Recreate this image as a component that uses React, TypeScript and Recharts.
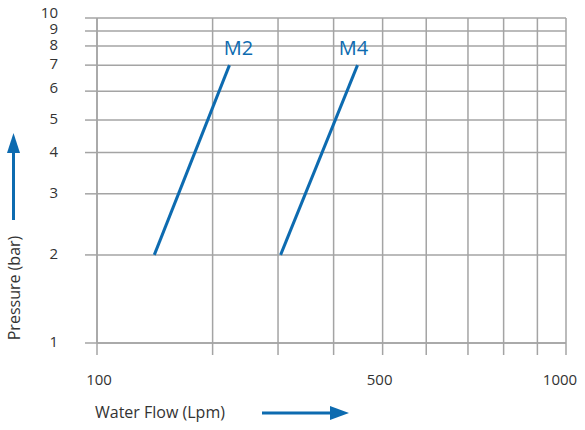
import { LineChart, Line, XAxis, YAxis, CartesianGrid } from 'recharts';

const FLOW_TICKS = [100, 200, 300, 400, 500, 600, 700, 800, 900, 1000];
const FLOW_LABELS = ['100', '', '', '', '500', '', '', '', '', '1000'];
const PRESSURE_TICKS = [1, 2, 3, 4, 5, 6, 7, 8, 9, 10];

// the printed grid is not a strict log scale, so keep its relative spacing
const FLOW_SPACING = [0, 0.2465, 0.386, 0.5045, 0.609, 0.702, 0.791, 0.867, 0.939, 1];
const PRESSURE_SPACING = [0, 0.271, 0.459, 0.586, 0.686, 0.775, 0.855, 0.914, 0.96, 1];

const M2 = [
  { flow: 141, pressure: 2 },
  { flow: 222, pressure: 7 },
];
const M4 = [
  { flow: 304, pressure: 2 },
  { flow: 446, pressure: 7 },
];

const BLUE = '#0d6bb0';
const GRID = '#a4a4a4';
const TEXT = '#333333';
const FONT = '"Open Sans", "Noto Sans", sans-serif';

// d3-like scale: log interpolation between the printed grid lines
function gridScale(knots: number[], spacing: number[]) {
  let domain = [knots[0], knots[knots.length - 1]];
  let range = [0, 1];
  const frac = (v: number) => {
    let i = 0;
    while (i < knots.length - 2 && v > knots[i + 1]) i++;
    const t = Math.log(v / knots[i]) / Math.log(knots[i + 1] / knots[i]);
    return spacing[i] + t * (spacing[i + 1] - spacing[i]);
  };
  const scale: any = (v: any) => {
    const n = Number(v);
    if (!(n > 0)) return undefined;
    const f0 = frac(Number(domain[0]));
    const f1 = frac(Number(domain[1]));
    const f = (frac(n) - f0) / (f1 - f0);
    return range[0] + f * (range[1] - range[0]);
  };
  scale.domain = (d?: any[]) => {
    if (d === undefined) return domain.slice();
    domain = d.map(Number);
    return scale;
  };
  scale.range = (r?: any[]) => {
    if (r === undefined) return range.slice();
    range = r.map(Number);
    return scale;
  };
  scale.copy = () => gridScale(knots, spacing).domain(domain).range(range);
  scale.ticks = () => knots.slice();
  scale.tickFormat = () => (v: any) => String(v);
  scale.invert = (px: number) => {
    const f0 = frac(Number(domain[0]));
    const f1 = frac(Number(domain[1]));
    const f = f0 + ((px - range[0]) / (range[1] - range[0])) * (f1 - f0);
    let i = 0;
    while (i < spacing.length - 2 && f > spacing[i + 1]) i++;
    const t = (f - spacing[i]) / (spacing[i + 1] - spacing[i]);
    return knots[i] * Math.pow(knots[i + 1] / knots[i], t);
  };
  return scale;
}

const flowScale = gridScale(FLOW_TICKS, FLOW_SPACING);
const pressureScale = gridScale(PRESSURE_TICKS, PRESSURE_SPACING);

const seriesTag = (name: string, last: number, dx: number) => (props: any) => {
  if (props.index !== last) return <g />;
  return (
    <text
      x={props.x + dx}
      y={props.y - 10}
      textAnchor="middle"
      fill={BLUE}
      fontSize={20}
      fontFamily={FONT}
    >
      {name}
    </text>
  );
};

const FlowTick = (props: any) => {
  const { x, y, payload, index } = props;
  const label = FLOW_LABELS[index] ?? '';
  if (!label) return <g />;
  const shift = index === FLOW_TICKS.length - 1 ? -6 : index === 0 ? 2 : -3;
  return (
    <text x={x + shift} y={y} dy="0.71em" textAnchor="middle" fill={TEXT} fontSize={15} fontFamily={FONT}>
      {label}
    </text>
  );
};

// the top labels are crowded, the printed chart lifts them a little
const PressureTick = (props: any) => {
  const { x, y, payload } = props;
  const v = payload.value;
  const lift = v === 10 ? 5.5 : v === 9 ? 2 : v === 6 ? 3.5 : v === 7 ? 1.5 : 1;
  return (
    <text x={x} y={y - lift} dy="0.355em" textAnchor="end" fill={TEXT} fontSize={15} fontFamily={FONT}>
      {v}
    </text>
  );
};

const FlowTitle = (props: any) => {
  const vb = props.viewBox;
  const ay = vb.y + 70;
  const x0 = vb.x + 165;
  const x1 = vb.x + 252;
  return (
    <g>
      <text x={vb.x - 2} y={vb.y + 75} fill={TEXT} fontSize={16} fontFamily={FONT}>
        Water Flow (Lpm)
      </text>
      <line x1={x0} y1={ay} x2={x1 - 15} y2={ay} stroke={BLUE} strokeWidth={3} />
      <polygon points={`${x1},${ay} ${x1 - 19},${ay - 7} ${x1 - 19},${ay + 7}`} fill={BLUE} />
    </g>
  );
};

const PressureTitle = (props: any) => {
  const vb = props.viewBox;
  const ax = vb.x + 13.5;
  const tx = vb.x + 19.5;
  const ty = vb.y + 270;
  const y0 = vb.y + 202;
  const y1 = vb.y + 115;
  return (
    <g>
      <text
        x={tx}
        y={ty}
        transform={`rotate(-90, ${tx}, ${ty})`}
        textAnchor="middle"
        fill={TEXT}
        fontSize={16}
        fontFamily={FONT}
      >
        Pressure (bar)
      </text>
      <line x1={ax} y1={y0} x2={ax} y2={y1 + 15} stroke={BLUE} strokeWidth={3} />
      <polygon points={`${ax},${y1} ${ax - 6.5},${y1 + 20} ${ax + 6.5},${y1 + 20}`} fill={BLUE} />
    </g>
  );
};

export default function App() {
  return (
    <div style={{ position: 'absolute', left: 0, top: 0, width: 585, height: 430 }}>
      <LineChart
        width={585}
        height={430}
        margin={{ top: 18, right: 19, bottom: 0, left: 0 }}
        style={{ fontFamily: FONT }}
      >
        <CartesianGrid stroke={GRID} strokeWidth={1.5} />
        <XAxis
          dataKey="flow"
          type="number"
          scale={flowScale}
          domain={[100, 1000]}
          allowDataOverflow
          ticks={FLOW_TICKS}
          interval={0}
          height={87}
          tickSize={12}
          tickMargin={19}
          axisLine={{ stroke: GRID, strokeWidth: 1.5 }}
          tickLine={{ stroke: GRID, strokeWidth: 1.5 }}
          tick={<FlowTick />}
          label={{ content: FlowTitle }}
        />
        <YAxis
          dataKey="pressure"
          type="number"
          scale={pressureScale}
          domain={[1, 10]}
          allowDataOverflow
          ticks={PRESSURE_TICKS}
          interval={0}
          width={97}
          tickSize={12}
          tickMargin={27}
          axisLine={{ stroke: GRID, strokeWidth: 1.5 }}
          tickLine={{ stroke: GRID, strokeWidth: 1.5 }}
          tick={<PressureTick />}
          label={{ content: PressureTitle }}
        />
        <Line
          data={M2}
          dataKey="pressure"
          name="M2"
          stroke={BLUE}
          strokeWidth={3}
          dot={false}
          isAnimationActive={false}
          label={seriesTag('M2', M2.length - 1, 9)}
        />
        <Line
          data={M4}
          dataKey="pressure"
          name="M4"
          stroke={BLUE}
          strokeWidth={3}
          dot={false}
          isAnimationActive={false}
          label={seriesTag('M4', M4.length - 1, -4)}
        />
      </LineChart>
    </div>
  );
}
